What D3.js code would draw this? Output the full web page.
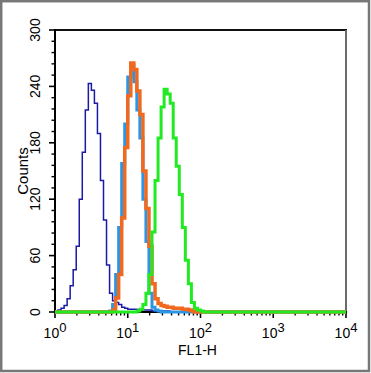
<!DOCTYPE html>
<html>
<head>
<meta charset="utf-8">
<script src="https://cdn.jsdelivr.net/npm/d3@7"></script>
<style>
  html, body { margin: 0; padding: 0; background: white; }
  text { font-family: "Liberation Sans", Arial, sans-serif; fill: black; }
</style>
</head>
<body>
<svg id="chart" width="371" height="373"></svg>
<script>
// histogram data: 24 bins per decade, counts per bin, first bin index
const binsPerDecade = 24
const totalBins = 96

const navyStart = 0
const navyCounts = [1, 2, 4, 7, 14, 28, 45, 70, 120, 170, 215, 243, 236, 222, 190, 140, 98, 50, 20, 12,
  10, 8, 5, 4, 3, 3, 3, 2, 2, 2, 2, 2, 1, 1, 1, 1, 1, 1]

const lightBlueStart = 18
const lightBlueCounts = [1, 8, 40, 90, 158, 200, 250, 263, 245, 215, 185, 120, 75, 20, 5, 2, 1]

const orangeStart = 19
const orangeCounts = [2, 15, 40, 100, 175, 230, 265, 258, 235, 210, 150, 110, 70, 30, 14, 9,
  7, 6, 5, 5, 4, 4, 4, 3, 3, 2, 1]

const greenStart = 27
const greenCounts = [1, 3, 8, 20, 40, 85, 140, 185, 218, 237, 232, 222, 185, 155, 125, 90, 55, 30, 10, 4, 2, 1]

const yTicks = [0, 60, 120, 180, 240, 300]
const xDecades = [0, 1, 2, 3, 4]

const svg = d3.select('#chart')

// outer frame
svg.append('rect')
    .attr('x', 1.2).attr('y', 1.2)
    .attr('width', 367.8).attr('height', 369.8)
    .attr('fill', 'white')
    .attr('stroke', '#787878')
    .attr('stroke-width', 2.5)

const m = { left: 55, right: 346, top: 30, bottom: 312 }

const x = d3.scaleLog().domain([1, 1e4]).range([m.left, m.right])
const y = d3.scaleLinear().domain([0, 300]).range([m.bottom, m.top])

// pad a series with zero bins so it runs along the baseline
const toPoints = (start, counts) => {
  const pts = []
  for (let k = 0; k < totalBins; k++) {
    const i = k - start
    const c = (i >= 0 && i < counts.length) ? counts[i] : 0
    pts.push([Math.pow(10, (k + 0.5) / binsPerDecade), c])
  }
  pts.unshift([1, pts[0][1]])
  pts.push([1e4, 0])
  return pts
}

const line = d3.line()
    .x(d => x(d[0]))
    .y(d => y(d[1]))
    .curve(d3.curveStep)

const plot = svg.append('g')

// top and right of the plot box
plot.append('line')
    .attr('x1', m.left).attr('x2', m.right + 1).attr('y1', m.top).attr('y2', m.top)
    .attr('stroke', '#111').attr('stroke-width', 1.8)
plot.append('line')
    .attr('x1', m.right).attr('x2', m.right).attr('y1', m.top).attr('y2', m.bottom)
    .attr('stroke', '#6a6a6a').attr('stroke-width', 2)

// y axis
const yMinor = d3.range(0, 301, 12).filter(v => v % 60 !== 0)
const yAxis = svg.append('g')
yAxis.append('line')
    .attr('x1', m.left).attr('x2', m.left).attr('y1', m.top - 1).attr('y2', m.bottom + 1)
    .attr('stroke', 'black').attr('stroke-width', 2)
yAxis.selectAll('.major').data(yTicks).enter().append('line')
    .attr('x1', m.left - 6).attr('x2', m.left)
    .attr('y1', d => y(d)).attr('y2', d => y(d))
    .attr('stroke', 'black').attr('stroke-width', 1.6)
yAxis.selectAll('.minor').data(yMinor).enter().append('line')
    .attr('x1', m.left - 3.5).attr('x2', m.left)
    .attr('y1', d => y(d)).attr('y2', d => y(d))
    .attr('stroke', 'black').attr('stroke-width', 1.4)
yAxis.selectAll('.lab').data(yTicks).enter().append('text')
    .attr('transform', d => `translate(39.5, ${y(d)}) rotate(-90)`)
    .attr('text-anchor', 'middle')
    .style('font-size', '14px')
    .text(d => d)

svg.append('text')
    .attr('transform', `translate(28, ${(m.top + m.bottom) / 2}) rotate(-90)`)
    .attr('text-anchor', 'middle')
    .style('font-size', '15px')
    .text('Counts')

// x axis
const xMinor = []
xDecades.slice(0, -1).forEach(p => {
  for (let k = 2; k <= 9; k++) xMinor.push(k * Math.pow(10, p))
})
const xAxis = svg.append('g')
xAxis.append('line')
    .attr('x1', m.left - 1).attr('x2', m.right + 1).attr('y1', m.bottom).attr('y2', m.bottom)
    .attr('stroke', 'black').attr('stroke-width', 2)
xAxis.selectAll('.major').data(xDecades).enter().append('line')
    .attr('x1', d => x(Math.pow(10, d))).attr('x2', d => x(Math.pow(10, d)))
    .attr('y1', m.bottom).attr('y2', m.bottom + 6)
    .attr('stroke', 'black').attr('stroke-width', 1.6)
xAxis.selectAll('.minor').data(xMinor).enter().append('line')
    .attr('x1', d => x(d)).attr('x2', d => x(d))
    .attr('y1', m.bottom).attr('y2', m.bottom + 3.5)
    .attr('stroke', 'black').attr('stroke-width', 1.4)

const xLab = xAxis.selectAll('.lab').data(xDecades).enter().append('text')
    .attr('x', d => x(Math.pow(10, d)))
    .attr('y', 338)
    .attr('text-anchor', 'middle')
    .style('font-size', '14px')
xLab.append('tspan').text('10')
xLab.append('tspan')
    .attr('dy', -6)
    .style('font-size', '13px')
    .text(d => d)

svg.append('text')
    .attr('x', 197.5).attr('y', 355)
    .attr('text-anchor', 'middle')
    .style('font-size', '14px')
    .text('FL1-H')

// histograms
const series = [
  { start: navyStart, counts: navyCounts, color: '#1a1aa6', width: 1.5 },
  { start: lightBlueStart, counts: lightBlueCounts, color: '#2b96e6', width: 3 },
  { start: orangeStart, counts: orangeCounts, color: '#f0691f', width: 3.5 },
  { start: greenStart, counts: greenCounts, color: '#22ea22', width: 3 }
]

svg.append('g').selectAll('path').data(series).enter().append('path')
    .attr('d', d => line(toPoints(d.start, d.counts)))
    .attr('fill', 'none')
    .attr('stroke', d => d.color)
    .attr('stroke-width', d => d.width)
    .attr('stroke-linejoin', 'miter')
</script>
</body>
</html>
